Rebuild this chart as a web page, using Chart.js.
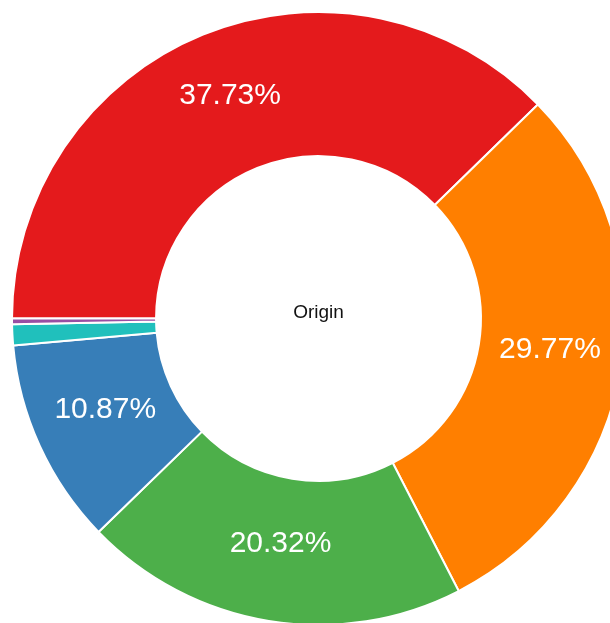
<!DOCTYPE html>
<html>
<head>
<meta charset="utf-8">
<script src="https://cdn.jsdelivr.net/npm/chart.js@4"></script>
<style>
  html, body { margin: 0; padding: 0; background: #fff; overflow: hidden; }
  #wrap { position: absolute; left: 0; top: 0; width: 637px; height: 637px; }
</style>
</head>
<body>
<div id="wrap"><canvas id="donut"></canvas></div>
<script>
// Parts de chaque origine (en %)
const labels = ['A', 'B', 'C', 'D', 'E', 'F'];
const values = [37.73, 29.77, 20.32, 10.87, 1.1, 0.3];
const colors = ['#e41a1c', '#ff7f00', '#4daf4a', '#377eb8', '#20c0bc', '#984ea3'];
const centerText = 'Origin';

// pourcentages écrits dans les parts + texte au centre
const donutLabels = {
  id: 'donutLabels',
  afterDatasetsDraw(chart) {
    const ctx = chart.ctx;
    const meta = chart.getDatasetMeta(0);
    const data = chart.data.datasets[0].data;
    ctx.save();
    ctx.textAlign = 'center';
    ctx.textBaseline = 'middle';
    ctx.fillStyle = '#fff';
    ctx.font = '30px "Liberation Sans", Arial, sans-serif';
    meta.data.forEach((arc, i) => {
      if (data[i] < 5) return;
      const p = arc.getCenterPoint();
      ctx.fillText(data[i].toFixed(2) + '%', p.x, p.y - 6);
    });
    const arc0 = meta.data[0];
    ctx.fillStyle = '#111';
    ctx.font = '19px "Liberation Sans", Arial, sans-serif';
    ctx.fillText(centerText, arc0.x, arc0.y - 6);
    ctx.restore();
  }
};

new Chart(document.getElementById('donut'), {
  type: 'doughnut',
  data: {
    labels: labels,
    datasets: [{
      data: values,
      backgroundColor: colors,
      borderColor: '#fff',
      borderWidth: 2,
      hoverOffset: 0
    }]
  },
  options: {
    responsive: true,
    maintainAspectRatio: false,
    animation: false,
    rotation: -90,
    cutout: '53%',
    layout: { padding: 11 },
    plugins: {
      legend: { display: false },
      tooltip: { enabled: false }
    }
  },
  plugins: [donutLabels]
});
</script>
</body>
</html>
